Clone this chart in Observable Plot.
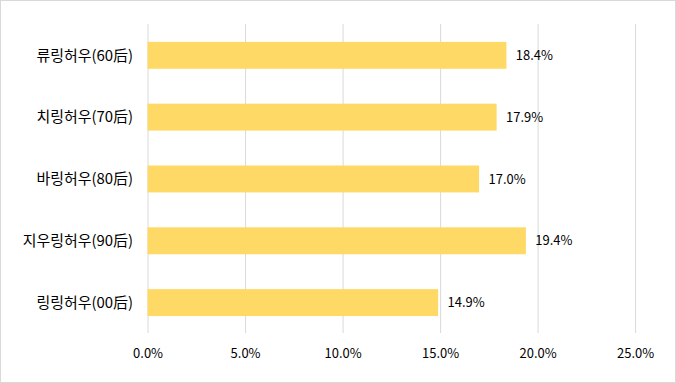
<!DOCTYPE html>
<html>
<head>
<meta charset="utf-8">
<script src="https://cdn.jsdelivr.net/npm/d3@7"></script>
<script src="https://cdn.jsdelivr.net/npm/@observablehq/plot@0.6"></script>
<style>
html,body{margin:0;padding:0;background:#fff;}
#chart{width:676px;height:383px;box-sizing:border-box;border:1px solid #d9d9d9;position:relative;overflow:hidden;}
#chart svg{position:absolute;left:-1px;top:-1px;}
</style>
</head>
<body>
<div id="chart"></div>
<script>
const categories = ["류링허우(60后)", "치링허우(70后)", "바링허우(80后)", "지우링허우(90后)", "링링허우(00后)"];
const values = [18.4, 17.9, 17.0, 19.4, 14.9];
const tickValues = [0, 5, 10, 15, 20, 25];

const data = categories.map((c, i) => ({category: c, value: values[i]}));
const font = "'Noto Sans CJK KR', 'Noto Sans', sans-serif";

const chart = Plot.plot({
  width: 676,
  height: 383,
  marginTop: 24,
  marginBottom: 49,
  marginLeft: 148,
  marginRight: 39,
  style: {fontFamily: font, fontSize: "12px", color: "#000", background: "transparent"},
  x: {domain: [0, 25], ticks: tickValues, tickFormat: d => d.toFixed(1) + "%", label: null},
  y: {domain: categories, label: null, paddingInner: 0.565, paddingOuter: 0.2825},
  marks: [
    Plot.gridX(tickValues, {stroke: "#d9d9d9", strokeOpacity: 1, strokeWidth: 1}),
    Plot.barX(data, {x: "value", y: "category", fill: "#FFD966"}),
    Plot.text(data, {x: "value", y: "category", text: d => d.value.toFixed(1) + "%", textAnchor: "start", dx: 9, fontSize: 13, fill: "#000"}),
    Plot.axisX({ticks: tickValues, tickFormat: d => d.toFixed(1) + "%", tickSize: 0, tickPadding: 15, fontSize: 13, label: null}),
    Plot.axisY({tickSize: 0, tickPadding: 15, fontSize: 15, label: null})
  ]
});
document.getElementById("chart").appendChild(chart);
</script>
</body>
</html>
